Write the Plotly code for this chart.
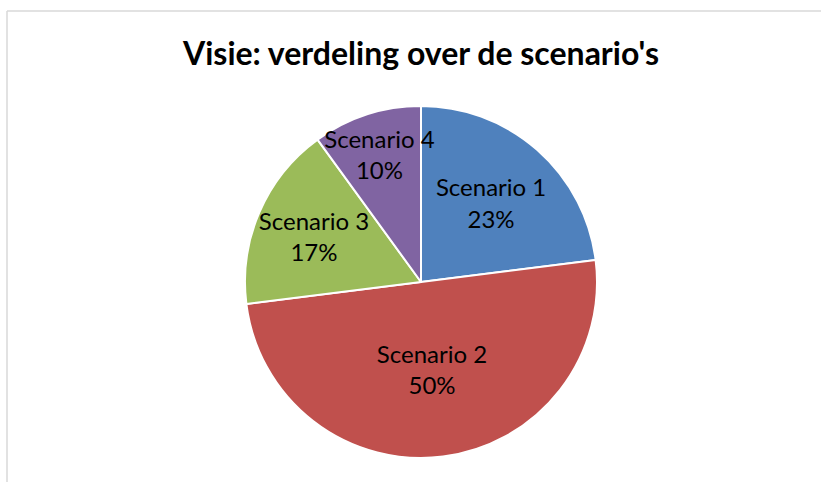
import plotly.graph_objects as go

labels = ["Scenario 1", "Scenario 2", "Scenario 3", "Scenario 4"]
values = [23, 50, 17, 10]
colors = ["#4F81BD", "#C0504D", "#9BBB59", "#8064A2"]
title_text = "Visie: verdeling over de scenario's"

W, H = 821, 482
cx, cy, r = 421, 282, 176

fig = go.Figure(go.Pie(
    labels=labels,
    values=values,
    sort=False,
    direction="clockwise",
    rotation=0,
    marker=dict(colors=colors, line=dict(color="white", width=2)),
    texttemplate="%{label}<br>%{percent:.0%}",
    textposition="inside",
    insidetextorientation="horizontal",
    textfont=dict(family="Lato", size=24, color="black"),
    showlegend=False,
    hoverinfo="label+percent",
    domain=dict(x=[(cx - r) / W, (cx + r) / W], y=[1 - (cy + r) / H, 1 - (cy - r) / H]),
))

fig.update_layout(
    width=W, height=H,
    margin=dict(l=0, r=0, t=0, b=0),
    paper_bgcolor="white",
    uniformtext=dict(minsize=24, mode="show"),
    title=dict(text="<b>" + title_text + "</b>", x=421 / W, xanchor="center",
               y=1 - 54 / H, yanchor="middle",
               font=dict(family="Lato", size=32, color="black")),
    shapes=[
        dict(type="line", xref="paper", yref="paper", x0=7 / W, x1=1, y0=1 - 11 / H, y1=1 - 11 / H,
             line=dict(color="#D9D9D9", width=1.5)),
        dict(type="line", xref="paper", yref="paper", x0=7 / W, x1=7 / W, y0=0, y1=1 - 11 / H,
             line=dict(color="#D9D9D9", width=1.5)),
    ],
)

fig.write_html("out.html", config={"displayModeBar": False},
               post_script="document.body.style.margin='0';")
